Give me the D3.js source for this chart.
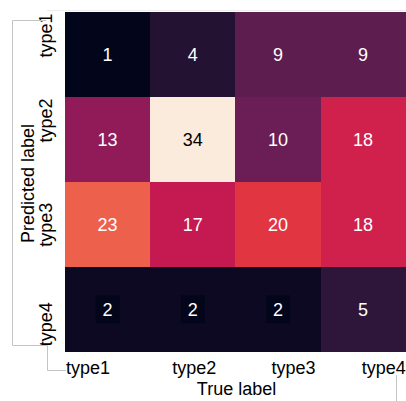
<!DOCTYPE html>
<html>
<head>
<meta charset="utf-8">
<script src="https://cdn.jsdelivr.net/npm/d3@7"></script>
<style>
  html, body { margin: 0; padding: 0; background: #fff; }
  svg { display: block; font-family: "Liberation Sans", Arial, sans-serif; }
</style>
</head>
<body>
<svg id="chart" width="406" height="401"></svg>
<script>
// Confusion matrix: rows = predicted label, columns = true label
const trueLabels = ["type1", "type2", "type3", "type4"];
const predictedLabels = ["type1", "type2", "type3", "type4"];
const counts = [
  [1, 4, 9, 9],
  [13, 34, 10, 18],
  [23, 17, 20, 18],
  [2, 2, 2, 5]
];

// "rocket" colour ramp stops
const rocketStops = ["#03051a", "#35193e", "#701f57", "#ad1759", "#cb1b4f", "#e13342", "#f37651", "#f6b48f", "#faebdd"];
const rocketPos = [0, 1 / 7, 2 / 7, 3 / 7, 0.5, 4 / 7, 5 / 7, 6 / 7, 1];

const svg = d3.select("#chart");
const plot = { left: 65, top: 12, right: 405.7, bottom: 351.7 };

const x = d3.scaleBand().domain(trueLabels).range([plot.left, plot.right]);
const y = d3.scaleBand().domain(predictedLabels).range([plot.top, plot.bottom]);

const flat = counts.flatMap(row => row);
const vmin = d3.min(flat), vmax = d3.max(flat);
const ramp = d3.scaleLinear().domain(rocketPos).range(rocketStops).interpolate(d3.interpolateRgb);
const color = v => ramp((v - vmin) / (vmax - vmin));

const cells = counts.flatMap((row, i) => row.map((v, j) => ({
  pred: predictedLabels[i], tru: trueLabels[j], value: v
})));

// faint frame line along the top
svg.append("line")
  .attr("x1", 47).attr("x2", 406).attr("y1", 10.5).attr("y2", 10.5)
  .attr("stroke", "#ececec").attr("stroke-width", 1);

// heatmap cells
svg.append("g").selectAll("rect")
  .data(cells).join("rect")
  .attr("x", d => x(d.tru))
  .attr("y", d => y(d.pred))
  .attr("width", x.bandwidth())
  .attr("height", y.bandwidth())
  .attr("fill", d => color(d.value))
  .attr("shape-rendering", "crispEdges");

// annotations
const ann = svg.append("g").selectAll("g")
  .data(cells).join("g")
  .attr("transform", d => `translate(${x(d.tru) + x.bandwidth() / 2},${y(d.pred) + y.bandwidth() / 2})`);

// the faintest cells get a backing box in the floor colour
ann.filter(d => d.value > vmin && d.value <= vmin + 1)
  .append("rect")
  .attr("x", -12).attr("y", -14).attr("width", 24).attr("height", 28)
  .attr("fill", color(vmin));

// dark text only on the pale cells
ann.append("text")
  .attr("text-anchor", "middle")
  .attr("dy", "0.35em")
  .attr("font-size", 18)
  .attr("fill", d => d3.lab(color(d.value)).l > 75 ? "#000" : "#fff")
  .text(d => d.value);

// tick label placement along each axis
const xPlace = [
  { anchor: "start", at: b => x(b) + 1 },
  { anchor: "middle", at: b => x(b) + x.bandwidth() / 2 + 1.5 },
  { anchor: "middle", at: b => x(b) + x.bandwidth() / 2 + 15.5 },
  { anchor: "end", at: b => x(b) + x.bandwidth() }
];
const yPlace = [
  { anchor: "end", at: b => y(b) + 1.5 },
  { anchor: "end", at: b => y(b) + 1.5 },
  { anchor: "middle", at: b => y(b) + y.bandwidth() / 2 + 0.5 },
  { anchor: "start", at: b => y(b) + y.bandwidth() - 5.5 }
];

svg.append("g").selectAll("text")
  .data(trueLabels).join("text")
  .attr("x", (d, i) => xPlace[i].at(d))
  .attr("y", 373.5)
  .attr("text-anchor", (d, i) => xPlace[i].anchor)
  .attr("font-size", 18)
  .attr("fill", "#000")
  .text(d => d);

svg.append("g").selectAll("text")
  .data(predictedLabels).join("text")
  .attr("transform", (d, i) => `translate(52,${yPlace[i].at(d)}) rotate(-90)`)
  .attr("text-anchor", (d, i) => yPlace[i].anchor)
  .attr("font-size", 18)
  .attr("fill", "#000")
  .text(d => d);

// axis titles
svg.append("text")
  .attr("x", 236.5).attr("y", 395)
  .attr("text-anchor", "middle")
  .attr("font-size", 18)
  .text("True label");

svg.append("text")
  .attr("transform", "translate(34,183.5) rotate(-90)")
  .attr("text-anchor", "middle")
  .attr("font-size", 18)
  .text("Predicted label");

// leader lines
svg.append("path")
  .attr("d", "M46.5,20.5 H12.5 V345.5 H47.5 V370.5 H66")
  .attr("fill", "none").attr("stroke", "#c4c4c4").attr("stroke-width", 1);
svg.append("path")
  .attr("d", "M396.5,375 V401")
  .attr("fill", "none").attr("stroke", "#c4c4c4").attr("stroke-width", 1);
</script>
</body>
</html>
